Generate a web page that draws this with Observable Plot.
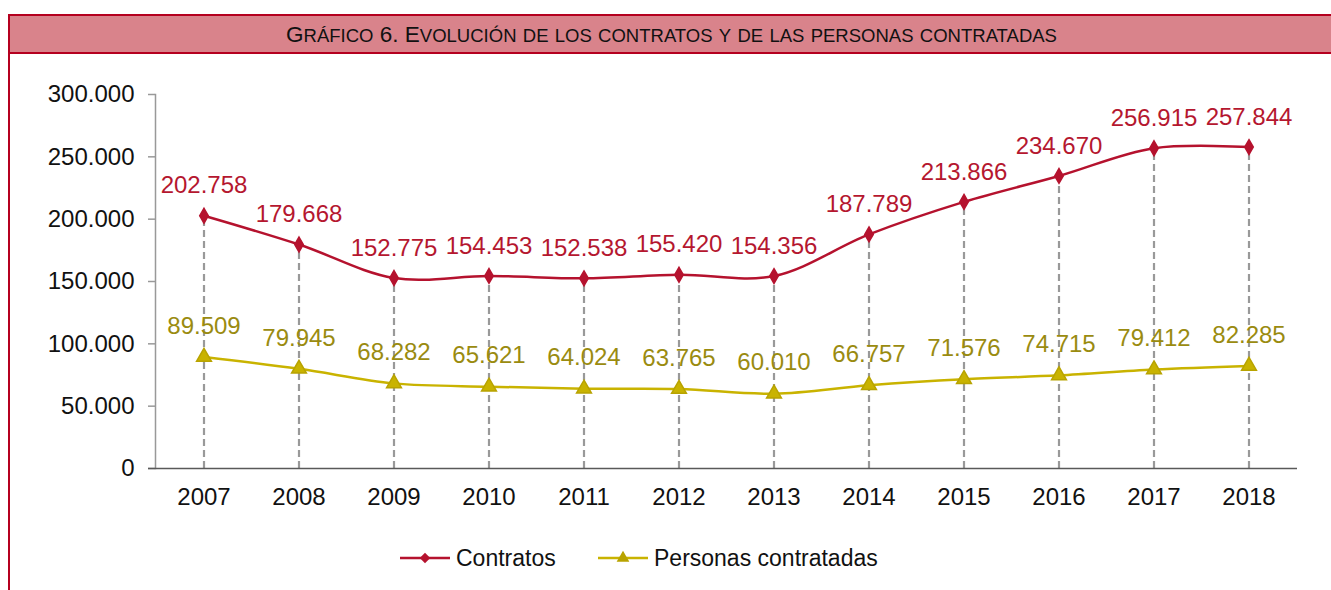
<!DOCTYPE html>
<html>
<head>
<meta charset="utf-8">
<script src="https://cdn.jsdelivr.net/npm/d3@7"></script>
<script src="https://cdn.jsdelivr.net/npm/@observablehq/plot@0.6"></script>
<style>
  body { margin: 0; background: #fff; font-family: "Liberation Sans", Arial, sans-serif; }
  #wrap { position: relative; width: 1331px; height: 590px; overflow: hidden; }
  #leftLine { position: absolute; left: 8px; top: 14px; width: 2px; height: 600px; background: #b5001f; }
  #title { position: absolute; left: 8px; top: 14px; width: 1323px; height: 36px; background: #d9838b;
           border-top: 2px solid #b5001f; border-bottom: 2px solid #b5001f; border-left: 2px solid #b5001f;
           box-sizing: content-box; text-align: center; line-height: 38px; font-size: 22.5px; color: #111; }
  #title .s { font-size: 18.5px; }
  #chart { position: absolute; left: 0; top: 54px; }
  #legend { position: absolute; top: 544px; left: 0; width: 1331px; height: 28px; font-size: 23px; color: #111; }
  .li { position: absolute; top: 0; display: flex; align-items: center; height: 28px; }
  .li svg { margin-right: 4px; }
</style>
</head>
<body>
<div id="wrap">
  <div id="title"></div>
  <div id="leftLine"></div>
  <div id="chart"></div>
  <div id="legend"></div>
</div>
<script>
const titleText = "Gráfico 6. Evolución de los contratos y de las personas contratadas";
const years = ["2007","2008","2009","2010","2011","2012","2013","2014","2015","2016","2017","2018"];
const contratos = [202758,179668,152775,154453,152538,155420,154356,187789,213866,234670,256915,257844];
const personas = [89509,79945,68282,65621,64024,63765,60010,66757,71576,74715,79412,82285];
const yTicks = [0,50000,100000,150000,200000,250000,300000];
const seriesNames = ["Contratos","Personas contratadas"];

const RED = "#b5122e";
const RED_TXT = "#b5172f";
const YEL = "#c9b300";
const YEL_TXT = "#9a8b10";

// Title in small caps: uppercase letters full-size, lowercase shown as smaller capitals
const titleEl = document.getElementById("title");
for (const ch of titleText) {
  if (ch !== ch.toUpperCase()) {
    const s = document.createElement("span");
    s.className = "s";
    s.textContent = ch.toUpperCase();
    titleEl.appendChild(s);
  } else {
    titleEl.appendChild(document.createTextNode(ch));
  }
}

const locale = d3.formatLocale({decimal: ",", thousands: ".", grouping: [3], currency: ["", "€"]});
const fmt = locale.format(",d");

const dataC = years.map((y, i) => ({year: y, value: contratos[i]}));
const dataP = years.map((y, i) => ({year: y, value: personas[i]}));

const chart = Plot.plot({
  width: 1331,
  height: 476,
  marginLeft: 155,
  marginRight: 34,
  marginTop: 40,
  marginBottom: 62,
  style: {fontFamily: "Liberation Sans, Arial, sans-serif", fontSize: "24px", color: "#111", background: "transparent"},
  x: {type: "band", domain: years, padding: 0, align: 0.5, label: null},
  y: {domain: [0, 300000], range: [414, 40], label: null},
  marks: [
    Plot.frame({anchor: "left", stroke: "#999", strokeWidth: 1.5}),
    Plot.axisY({ticks: yTicks, tickFormat: fmt, tickSize: 7, tickPadding: 14, stroke: "#999", strokeWidth: 1.5, fill: "#111", fontSize: 24, label: null}),
    Plot.axisX({tickSize: 0, tickPadding: 19, fill: "#111", fontSize: 24, label: null}),
    Plot.ruleX(dataC, {x: "year", y1: 0, y2: "value", stroke: "#999", strokeWidth: 2.2, strokeDasharray: "7,4"}),
    Plot.ruleY([0], {stroke: "#595959", strokeWidth: 1.5, insetLeft: -7}),
    Plot.line(dataC, {x: "year", y: "value", stroke: RED, strokeWidth: 2.5, curve: "catmull-rom"}),
    Plot.line(dataP, {x: "year", y: "value", stroke: YEL, strokeWidth: 2.5, curve: "catmull-rom"}),
    Plot.dot(dataC, {x: "year", y: "value", symbol: "diamond", r: 4.5, fill: RED, stroke: RED}),
    Plot.dot(dataP, {x: "year", y: "value", symbol: "triangle", r: 5.5, fill: YEL, stroke: "#b8a300", strokeWidth: 1.5}),
    Plot.text(dataC, {x: "year", y: "value", text: d => fmt(d.value), dy: -30, fill: RED_TXT, fontSize: 24}),
    Plot.text(dataP, {x: "year", y: "value", text: d => fmt(d.value), dy: -31, fill: YEL_TXT, fontSize: 24})
  ]
});
document.getElementById("chart").appendChild(chart);

// Legend
const legend = document.getElementById("legend");
const items = [
  {name: seriesNames[0], color: RED, left: 400, symbol: "diamond"},
  {name: seriesNames[1], color: YEL, left: 598, symbol: "triangle"}
];
items.forEach(it => {
  const div = document.createElement("div");
  div.className = "li";
  div.style.left = it.left + "px";
  const ns = "http://www.w3.org/2000/svg";
  const svg = document.createElementNS(ns, "svg");
  svg.setAttribute("width", 52); svg.setAttribute("height", 20);
  const line = document.createElementNS(ns, "line");
  line.setAttribute("x1", 0); line.setAttribute("x2", 50); line.setAttribute("y1", 10); line.setAttribute("y2", 10);
  line.setAttribute("stroke", it.color); line.setAttribute("stroke-width", 2.5);
  svg.appendChild(line);
  const p = document.createElementNS(ns, "path");
  const sym = it.symbol === "diamond" ? d3.symbolDiamond2 : d3.symbolTriangle;
  p.setAttribute("d", d3.symbol(sym, 70)());
  p.setAttribute("transform", "translate(25,10)");
  p.setAttribute("fill", it.symbol === "diamond" ? it.color : "#b8a300");
  svg.appendChild(p);
  div.appendChild(svg);
  const span = document.createElement("span");
  span.textContent = it.name;
  div.appendChild(span);
  legend.appendChild(div);
});
</script>
</body>
</html>
